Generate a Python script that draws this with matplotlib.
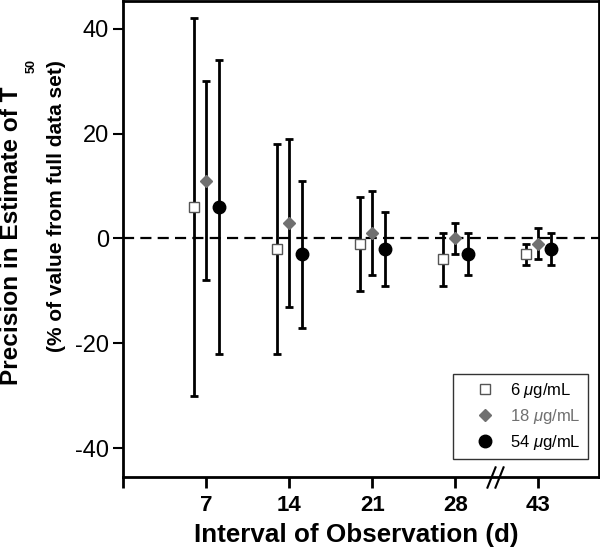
import matplotlib
matplotlib.use("Agg")
import matplotlib.pyplot as plt
import matplotlib.transforms as mtransforms
import numpy as np

plt.rcParams['font.family'] = ['Liberation Sans', 'DejaVu Sans']
plt.rcParams['mathtext.fontset'] = 'custom'
plt.rcParams['mathtext.it'] = 'Liberation Sans:italic'
plt.rcParams['mathtext.rm'] = 'Liberation Sans'
plt.rcParams['mathtext.bf'] = 'Liberation Sans:bold'

categories = ['7', '14', '21', '28', '43']
positions = [1, 2, 3, 4, 5]

mean6 = [6, -2, -1, -4, -3]
lo6 = [-30, -22, -10, -9, -5]
hi6 = [42, 18, 8, 1, -1]

mean18 = [11, 3, 1, 0, -1]
lo18 = [-8, -13, -7, -3, -4]
hi18 = [30, 19, 9, 3, 2]

mean54 = [6, -3, -2, -3, -2]
lo54 = [-22, -17, -9, -7, -5]
hi54 = [34, 11, 5, 1, 1]

series = [
    ('6 $\\mu$g/mL', mean6, lo6, hi6, -0.15, 's', 'white', '#555555', 7.5, 'black'),
    ('18 $\\mu$g/mL', mean18, lo18, hi18, 0.0, 'D', '#707070', '#707070', 6.3, '#707070'),
    ('54 $\\mu$g/mL', mean54, lo54, hi54, 0.15, 'o', 'black', 'black', 9, 'black'),
]

W, H = 600, 549
fig = plt.figure(figsize=(6.0, 5.49), dpi=100)
ax = fig.add_axes([123 / W, 1 - 477 / H, 476 / W, 476 / H])

ax.axhline(0, color='black', lw=1.6, ls=(0, (5, 2.8)), zorder=1)

handles = []
for label, m, lo, hi, off, mk, fc, ec, ms, tc in series:
    m = np.array(m, float)
    x = np.array(positions, float) + off
    yerr = np.vstack([m - np.array(lo), np.array(hi) - m])
    ax.errorbar(x, m, yerr=yerr, fmt='none', ecolor='black', elinewidth=2,
                capsize=3, capthick=2, zorder=2)
    h, = ax.plot(x, m, ls='none', marker=mk, markerfacecolor=fc,
                 markeredgecolor=ec, markersize=ms, markeredgewidth=1.0,
                 zorder=3, label=label)
    handles.append(h)

ax.set_xlim(0, 5.73)
ax.set_ylim(-45.5, 45.3)
ax.set_xticks([0] + positions)
ax.set_xticklabels([''] + categories, fontsize=16, fontweight='bold')
ax.set_yticks([-40, -20, 0, 20, 40])
ax.set_yticklabels(['-40', '-20', '0', '20', '40'], fontsize=17)
ax.tick_params(axis='x', direction='out', length=8, width=2, pad=5)
ax.tick_params(axis='y', direction='out', length=7, width=1.5, pad=3)
for s in ax.spines.values():
    s.set_linewidth(2)

# axis labels
fig.text(356 / W, 1 - 542 / H, 'Interval of Observation (d)', fontsize=18.7,
         fontweight='bold', ha='center', va='baseline')
fig.text(18 / W, 1 - 385 / H, 'Precision in Estimate of T', fontsize=17.6,
         fontweight='bold', rotation=90, rotation_mode='anchor',
         ha='left', va='baseline')
fig.text(35 / W, 1 - 73 / H, '50', fontsize=9, fontweight='bold',
         rotation=90, rotation_mode='anchor', ha='left', va='baseline')
fig.text(62 / W, 1 - 352 / H, '(% of value from full data set)', fontsize=15,
         fontweight='bold', rotation=90, rotation_mode='anchor',
         ha='left', va='baseline')

# axis break marks
trans = mtransforms.blended_transform_factory(ax.transData, ax.transAxes)
ax.plot([4.43, 4.53], [0, 0], transform=trans, ls='none',
        marker=[(-1, -2.5), (1, 2.5)], markersize=16, markeredgewidth=1.5,
        color='black', clip_on=False, zorder=5)

leg = ax.legend(handles=handles, loc='lower right', bbox_to_anchor=(0.977, 0.038),
                borderaxespad=0, fontsize=12, frameon=True, fancybox=False,
                edgecolor='black', handletextpad=0.0, labelspacing=0.42,
                borderpad=0.42, handlelength=3.0)
leg.get_frame().set_linewidth(1.0)
for txt, s in zip(leg.get_texts(), series):
    txt.set_color(s[9])

fig.savefig('out.png', dpi=100)
